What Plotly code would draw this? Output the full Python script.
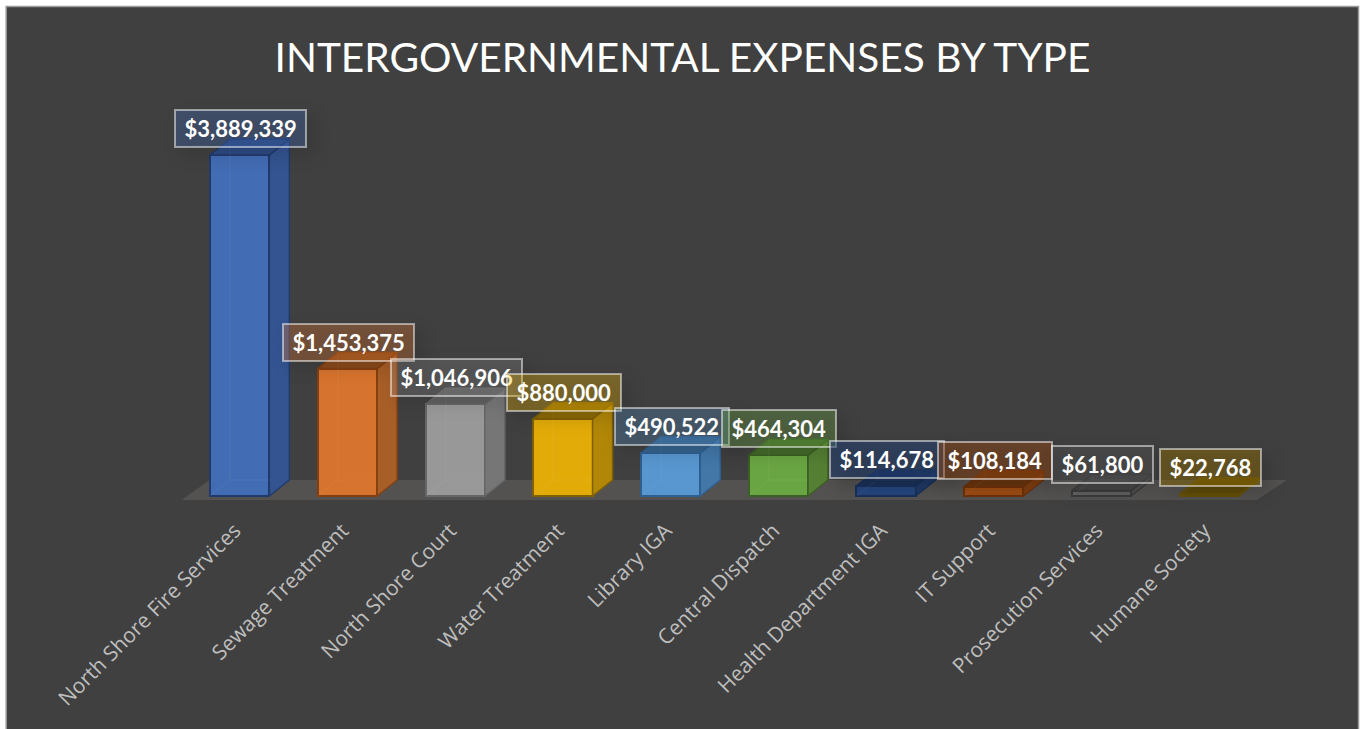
import plotly.graph_objects as go

categories = ["North Shore Fire Services", "Sewage Treatment", "North Shore Court",
              "Water Treatment", "Library IGA", "Central Dispatch",
              "Health Department IGA", "IT Support", "Prosecution Services", "Humane Society"]
values = [3889339, 1453375, 1046906, 880000, 490522, 464304, 114678, 108184, 61800, 22768]

front_colors = ["#426CB3", "#D6732E", "#989898", "#E2AB08", "#5796CF", "#6AA543",
                "#25457C", "#9A4A12", "#5E5E5E", "#8E6C08"]
side_colors = ["#335490", "#A85E27", "#767676", "#B28708", "#4277A8", "#558034",
               "#1F3965", "#7D3D10", "#4C4C4C", "#6E5608"]
top_colors = ["#2C4A82", "#8A4B1C", "#5F5F5F", "#8C6A06", "#35628C", "#446A2A",
              "#1A3159", "#68340E", "#444444", "#5E4A08"]
edge_colors = ["#203A6C", "#843F10", "#666666", "#7F6104", "#2F5F8F", "#3B5F24",
               "#18305A", "#6B310A", "#3A3A3A", "#655008"]
label_fills = ["rgba(68,114,196,0.30)", "rgba(237,125,49,0.30)", "rgba(165,165,165,0.22)",
               "rgba(255,192,0,0.30)", "rgba(91,155,213,0.28)", "rgba(112,173,71,0.32)",
               "rgba(38,68,120,0.50)", "rgba(158,72,14,0.42)", "rgba(99,99,99,0.25)",
               "rgba(153,115,0,0.42)"]

BAR_W = 0.55
DX = 0.186
DY = 182500
x_pos = list(range(len(categories)))

fig = go.Figure()

# Front faces
fig.add_trace(go.Bar(
    x=x_pos, y=values, width=BAR_W,
    marker=dict(color=front_colors, line=dict(color=edge_colors, width=2)),
    hoverinfo="skip", showlegend=False,
))

# Side, top faces and faint hidden edges, derived from the values
for i, v in enumerate(values):
    l, r = i - BAR_W / 2, i + BAR_W / 2
    fig.add_trace(go.Scatter(
        x=[r, r + DX, r + DX, r, r], y=[0, DY, v + DY, v, 0],
        mode="lines", fill="toself", fillcolor=side_colors[i],
        line=dict(color=edge_colors[i], width=1.5), hoverinfo="skip", showlegend=False))
    fig.add_trace(go.Scatter(
        x=[l, l + DX, r + DX, r, l], y=[v, v + DY, v + DY, v, v],
        mode="lines", fill="toself", fillcolor=top_colors[i],
        line=dict(color=edge_colors[i], width=1.5), hoverinfo="skip", showlegend=False))
    fig.add_trace(go.Scatter(
        x=[l, l + DX, l + DX, None, l + DX, r],
        y=[0, DY, v + DY, None, DY, DY],
        mode="lines", line=dict(color="rgba(255,255,255,0.04)", width=1.5),
        hoverinfo="skip", showlegend=False))

annotations = []
for i, v in enumerate(values):
    text = f"${v:,}"
    commas = text.count(",")
    text_w = 12.6 * (len(text) - commas) + 5.3 * commas
    annotations.append(dict(
        x=i, y=v, xref="x", yref="y", xshift=1, yshift=26.5, showarrow=False,
        text=f"<b>{text}</b>", font=dict(family="Lato, Open Sans, sans-serif", size=22, color="#FFFFFF"),
        bgcolor=label_fills[i], bordercolor="rgba(255,255,255,0.5)", borderwidth=2,
        borderpad=4, width=text_w + 10, align="center", xanchor="center", yanchor="middle"))

# Plot area in pixels, one spare category each side so the floor is not clipped
PL, PR, PT, PB = 132.3, 1317.0, 100, 500
fx = lambda px: (px - PL) / (PR - PL)
fy = lambda py: (PB - py) / (PB - PT)

fig.update_layout(
    width=1365, height=729,
    margin=dict(l=PL, r=1365 - PR, t=PT, b=729 - PB, autoexpand=False),
    paper_bgcolor="#FFFFFF", plot_bgcolor="rgba(0,0,0,0)",
    title=dict(text="INTERGOVERNMENTAL EXPENSES BY TYPE", x=682.5 / 1365, xanchor="center",
               y=1 - 58 / 729, yanchor="middle",
               font=dict(family="Lato, Open Sans, sans-serif", size=40.6, color="#FFFFFF")),
    xaxis=dict(range=[-1, 10], tickmode="array", tickvals=x_pos, ticktext=categories,
               tickangle=-45, ticks="outside", ticklen=9, tickcolor="rgba(0,0,0,0)",
               ticklabelshift=-5,
               tickfont=dict(family="Open Sans, sans-serif", size=21, color="#BEBEBE"),
               showgrid=False, zeroline=False, showline=False, automargin=False),
    yaxis=dict(range=[-45600, 4517000], visible=False, automargin=False),
    annotations=annotations,
    shapes=[
        dict(type="rect", xref="paper", yref="paper", layer="below",
             x0=fx(6.5), x1=fx(1358.5), y0=fy(735), y1=fy(6.5),
             fillcolor="#404040", line=dict(color="#9A9A9A", width=1.5)),
        dict(type="path", xref="x", yref="y", layer="below",
             path="M -0.54,-45600 L -0.28,%d L 9.72,%d L 9.44,-45600 Z" % (DY, DY),
             fillcolor="#545250", line=dict(width=0)),
    ],
    bargap=0,
)

post = """
document.body.style.margin='0';document.body.style.overflow='hidden';
document.querySelectorAll('.annotation-text-g rect.bg').forEach(function(r){
  r.style.filter='drop-shadow(7px 7px 8px rgba(0,0,0,0.35))';
});
"""
fig.write_html("out.html", post_script=post, config={"displayModeBar": False})
